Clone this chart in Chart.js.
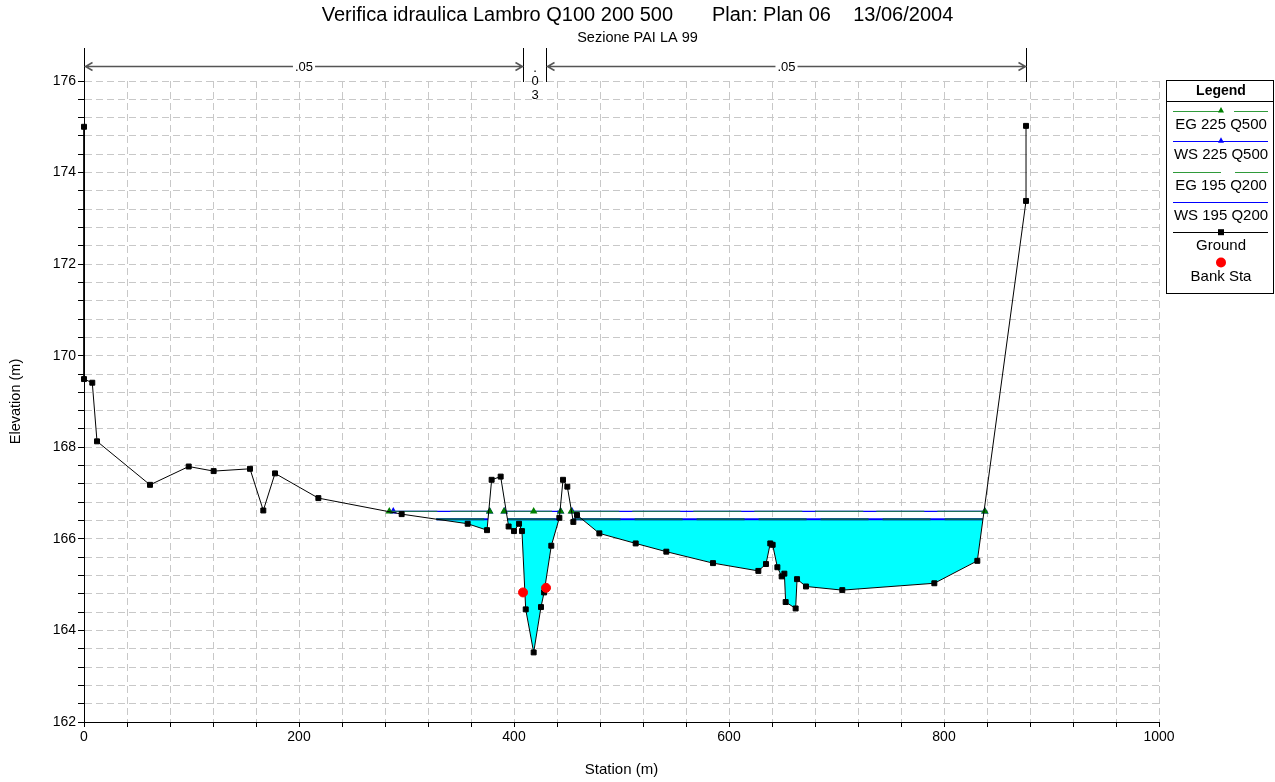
<!DOCTYPE html>
<html>
<head>
<meta charset="utf-8">
<title>Sezione PAI LA 99</title>
<script src="https://cdn.jsdelivr.net/npm/chart.js@4.4.1/dist/chart.umd.min.js"></script>
<style>
  html, body { margin: 0; padding: 0; background: #fff; }
  #wrap { width: 1275px; height: 782px; }
</style>
</head>
<body>
<div id="wrap"><canvas id="xsChart" width="1275" height="782"></canvas></div>
<script>
// ground profile, station (m) and elevation (m)
const groundStation = [0, 0, 7.7, 12.1, 61.4, 97.4, 120.6, 154.4, 166.8, 177.7, 218, 295.5, 356.9, 374.9, 379.2,
  387.6, 395, 400, 404.7, 407.4, 410.9, 418.3, 425.1, 428, 434.7, 442.2, 445.6, 449.6, 455.2, 458.6, 479.4,
  513.2, 541.7, 585.1, 627.3, 634.4, 638.4, 640.6, 645, 649, 651.5, 652.7, 662, 663.3, 671.6, 705.4, 791,
  831, 876.3, 876.3];
const groundElev = [175.0, 169.49, 169.41, 168.13, 167.18, 167.58, 167.48, 167.53, 166.62, 167.43, 166.89, 166.54,
  166.33, 166.19, 167.29, 167.36, 166.27, 166.17, 166.33, 166.17, 164.46, 163.52, 164.51, 164.83, 165.85,
  166.46, 167.29, 167.14, 166.37, 166.52, 166.12, 165.9, 165.72, 165.47, 165.3, 165.45, 165.9, 165.87,
  165.38, 165.18, 165.24, 164.62, 164.48, 165.12, 164.96, 164.88, 165.03, 165.52, 173.38, 175.02];

// bank stations
const bankStation = [408.4, 429.8];
const bankElev = [164.83, 164.93];

// water surfaces (null = break in the line)
const egQ500Station = [284, 377.4, null, 390.7, 418.3, 443.4, null, 453.3, 838];
const egQ500Elev = 166.60;
const wsQ500Station = [287.7, 377.4, null, 391, 443.4, null, 454, 838];
const wsQ500Elev = 166.60;
const egQ200Station = [327.7, 375.8, null, 393.9, 442.3, null, 454.5, 836.2];
const egQ200Elev = 166.43;
const wsQ200Station = [327.7, 375.8, null, 393.9, 442.3, null, 454.5, 836.2];
const wsQ200Elev = 166.43;
// extent of the wetted area for Q200
const wsQ200FillStation = [327.7, 836.2];

// manning's n regions
const nBreaks = [0, 408.4, 429.8, 876.3];
const nValues = ['.05', '.03', '.05'];

// tick labels
const xTickLabels = [0, 200, 400, 600, 800, 1000];
const yTickLabels = [162, 164, 166, 168, 170, 172, 174, 176];

const legendOrder = ['EG 225 Q500', 'WS 225 Q500', 'EG 195 Q200', 'WS 195 Q200', 'Ground', 'Bank Sta'];

const FONT = 'Arial, "Liberation Sans", sans-serif';
Chart.defaults.font.family = FONT;
Chart.defaults.color = '#000';

function levelLine(stations, elev) {
  let last = 0;
  return stations.map(s => {
    if (s === null) return { x: last, y: null };
    last = s;
    return { x: s, y: elev };
  });
}

const EG_GREEN = '#1d6e5a';     // how the EG lines look on top of the blue ones
const EG_LEGEND = '#2f9a3a';
const WS_BLUE = '#0000ff';

const datasets = [
  {
    label: 'Bank Sta',
    data: bankStation.map((s, i) => ({ x: s, y: bankElev[i] })),
    showLine: false,
    pointStyle: 'circle',
    pointRadius: 4.5,
    pointBackgroundColor: '#ff0000',
    pointBorderColor: '#ff0000',
    borderColor: '#ff0000',
    order: 0
  },
  {
    label: 'Ground',
    data: groundStation.map((s, i) => ({ x: s, y: groundElev[i] })),
    borderColor: '#000',
    borderWidth: 1,
    pointStyle: 'rect',
    pointRadius: 3.5,
    pointBackgroundColor: '#000',
    pointBorderColor: '#000',
    clip: false,
    order: 1
  },
  {
    label: 'EG 225 Q500',
    data: levelLine(egQ500Station, egQ500Elev),
    borderColor: EG_GREEN,
    borderWidth: 1.3,
    borderDash: [48, 13],
    pointStyle: 'triangle',
    pointRadius: 3,
    pointBackgroundColor: '#008000',
    pointBorderColor: '#008000',
    order: 2
  },
  {
    label: 'EG 195 Q200',
    data: levelLine(egQ200Station, egQ200Elev),
    borderColor: '#06605a',
    borderWidth: 2,
    borderDash: [48, 14],
    pointRadius: 0,
    order: 3
  },
  {
    label: 'WS 225 Q500',
    data: levelLine(wsQ500Station, wsQ500Elev),
    borderColor: WS_BLUE,
    borderWidth: 1.3,
    pointStyle: 'triangle',
    pointRadius: 3,
    pointBackgroundColor: WS_BLUE,
    pointBorderColor: WS_BLUE,
    order: 4
  },
  {
    label: 'WS 195 Q200',
    data: levelLine(wsQ200Station, wsQ200Elev),
    borderColor: WS_BLUE,
    borderWidth: 2,
    pointRadius: 0,
    order: 5
  },
  {
    label: 'Q200 area',
    data: levelLine(wsQ200FillStation, wsQ200Elev),
    borderWidth: 0,
    pointRadius: 0,
    fill: { target: 1, above: '#00ffff', below: 'rgba(0,0,0,0)' },
    order: 6
  }
];

// n values drawn above the plot
const manningPlugin = {
  id: 'manning',
  afterDraw(chart) {
    const { ctx, chartArea } = chart;
    const x = chart.scales.x;
    ctx.save();
    ctx.strokeStyle = '#000';
    ctx.lineWidth = 1;
    nBreaks.forEach(s => {
      const px = Math.round(x.getPixelForValue(s)) + 0.5;
      ctx.beginPath();
      ctx.moveTo(px, 48);
      ctx.lineTo(px, chartArea.top + 1);
      ctx.stroke();
    });
    ctx.font = '13px ' + FONT;
    ctx.fillStyle = '#000';
    ctx.textAlign = 'center';
    ctx.textBaseline = 'middle';
    const ya = 66.5;
    for (let i = 0; i < nValues.length; i++) {
      const x1 = Math.round(x.getPixelForValue(nBreaks[i])) + 0.5;
      const x2 = Math.round(x.getPixelForValue(nBreaks[i + 1])) + 0.5;
      const mid = (x1 + x2) / 2;
      if (x2 - x1 > 40) {
        ctx.strokeStyle = '#555';
        ctx.lineWidth = 1.5;
        ctx.beginPath();
        ctx.moveTo(x1 + 1, ya); ctx.lineTo(x2 - 1, ya);
        ctx.moveTo(x1 + 8, ya - 4); ctx.lineTo(x1 + 1, ya); ctx.lineTo(x1 + 8, ya + 4);
        ctx.moveTo(x2 - 8, ya - 4); ctx.lineTo(x2 - 1, ya); ctx.lineTo(x2 - 8, ya + 4);
        ctx.stroke();
        const w = ctx.measureText(nValues[i]).width + 4;
        ctx.fillStyle = '#fff';
        ctx.fillRect(mid - w / 2, ya - 7, w, 14);
        ctx.fillStyle = '#000';
        ctx.fillText(nValues[i], mid, ya + 1);
      } else {
        nValues[i].split('').forEach((c, k) => {
          ctx.fillText(c, mid, 68 + k * 13.5);
        });
      }
    }
    ctx.restore();
  }
};

// boxed legend on the right
const legendPlugin = {
  id: 'boxLegend',
  afterDraw(chart) {
    const { ctx } = chart;
    const left = 1166.5, top = 80.5, w = 107, h = 213;
    const cx = left + w / 2 + 1;
    ctx.save();
    ctx.strokeStyle = '#000';
    ctx.lineWidth = 1;
    ctx.strokeRect(left, top, w, h);
    ctx.beginPath();
    ctx.moveTo(left, top + 21); ctx.lineTo(left + w, top + 21);
    ctx.stroke();
    ctx.fillStyle = '#000';
    ctx.textAlign = 'center';
    ctx.textBaseline = 'middle';
    ctx.font = 'bold 14px ' + FONT;
    ctx.fillText('Legend', cx, top + 10.5);
    legendOrder.forEach((name, i) => {
      const ds = chart.data.datasets.find(d => d.label === name);
      const yl = 111 + i * 30.3;
      const isEG = name.startsWith('EG');
      if (ds.showLine !== false) {
        ctx.save();
        ctx.strokeStyle = isEG ? EG_LEGEND : ds.borderColor;
        ctx.lineWidth = 1;
        ctx.setLineDash(ds.borderDash || []);
        ctx.beginPath();
        ctx.moveTo(1173, Math.round(yl) + 0.5);
        ctx.lineTo(1268, Math.round(yl) + 0.5);
        ctx.stroke();
        ctx.restore();
      }
      if (ds.pointRadius > 0) {
        ctx.fillStyle = ds.pointBackgroundColor;
        const r = ds.pointRadius;
        ctx.beginPath();
        if (ds.pointStyle === 'triangle') {
          ctx.moveTo(cx, yl - r - 1); ctx.lineTo(cx + r, yl + 1.5); ctx.lineTo(cx - r, yl + 1.5);
          ctx.closePath();
        } else if (ds.pointStyle === 'rect') {
          ctx.rect(cx - 3, yl - 3, 6, 6);
        } else {
          ctx.arc(cx, yl, r + 0.5, 0, Math.PI * 2);
        }
        ctx.fill();
      }
      ctx.fillStyle = '#000';
      ctx.font = '15px ' + FONT;
      ctx.fillText(name, cx, yl + 14);
    });
    ctx.restore();
  }
};

new Chart(document.getElementById('xsChart'), {
  type: 'line',
  data: { datasets: datasets },
  plugins: [manningPlugin, legendPlugin],
  options: {
    responsive: false,
    animation: false,
    events: [],
    layout: { padding: 0 },
    plugins: {
      legend: { display: false },
      tooltip: { enabled: false },
      title: {
        display: true,
        text: 'Verifica idraulica Lambro Q100 200 500       Plan: Plan 06    13/06/2004',
        font: { size: 20, weight: 'normal' },
        color: '#000',
        padding: { top: 3, bottom: 2 }
      },
      subtitle: {
        display: true,
        text: 'Sezione PAI LA 99',
        font: { size: 14.5 },
        color: '#000',
        padding: { top: 0, bottom: 34.6 }
      }
    },
    scales: {
      x: {
        type: 'linear',
        min: 0,
        max: 1000,
        afterFit: s => { s.height = 60; },
        ticks: {
          stepSize: 40,
          autoSkip: false,
          maxRotation: 0,
          padding: 2,
          font: { size: 14 },
          color: '#000',
          callback: v => xTickLabels.includes(v) ? String(v) : ''
        },
        grid: { color: '#c8c8c8', lineWidth: 1, tickColor: '#000', tickLength: 5 },
        border: { display: true, color: '#000', width: 1, dash: [7, 4] },
        title: {
          display: true,
          text: 'Station (m)',
          font: { size: 15 },
          color: '#000',
          padding: { top: 0, bottom: 3 }
        }
      },
      y: {
        type: 'linear',
        min: 162,
        max: 176,
        afterFit: s => { s.width = 84; },
        ticks: {
          stepSize: 0.4,
          autoSkip: false,
          padding: 2,
          font: { size: 14 },
          color: '#000',
          callback: v => yTickLabels.includes(v) ? String(v) : ''
        },
        grid: { color: '#c8c8c8', lineWidth: 1, tickColor: '#000', tickLength: 6 },
        border: { display: true, color: '#000', width: 1, dash: [7, 4] },
        title: {
          display: true,
          text: 'Elevation (m)',
          font: { size: 14.5 },
          color: '#000',
          padding: { top: 7, bottom: 0 }
        }
      },
      // empty axis that keeps room for the legend box
      legendSpace: {
        type: 'linear',
        position: 'right',
        afterFit: s => { s.width = 116; },
        ticks: { display: false },
        grid: { display: false },
        border: { display: false }
      }
    }
  }
});
</script>
</body>
</html>
